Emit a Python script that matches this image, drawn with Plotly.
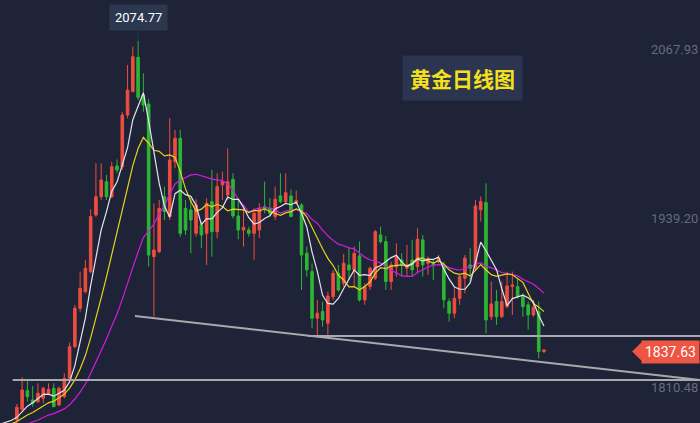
import plotly.graph_objects as go
import pandas as pd

# Earlier closes (before the visible window) used only for moving averages
pre_close = [1772, 1770, 1768, 1771, 1775, 1773, 1770, 1774, 1778, 1776,
             1779, 1782, 1780, 1778, 1781, 1784, 1786, 1783, 1785, 1788]

opens = [1785.4,1793.6,1807.8,1800.7,1799.4,1802.0,1805.8,1809.6,1796.9,1803.2,
         1817.2,1841.4,1870.7,1883.4,1898.7,1941.9,1955.9,1967.4,1955.9,1979.4,
         1978.8,2018.3,2036.1,2062.3,2033.6,2026.7,1910.1,1914.0,1955.9,1940.7,
         1982.7,2000.5,1947.0,1945.8,1927.9,1934.3,1927.9,1952.1,1929.2,1964.9,
         1957.2,1969.2,1941.2,1930.5,1930.5,1927.9,1930.5,1948.3,1947.0,1940.7,
         1956.5,1952.1,1956.5,1950.9,1949.6,1912.7,1898.7,1863.1,1868.2,1859.3,
         1879.6,1897.4,1889.8,1903.8,1900.0,1910.7,1877.1,1887.3,1893.6,1926.7,
         1921.6,1891.1,1902.5,1907.6,1901.3,1907.6,1902.5,1922.9,1905.1,1905.1,
         1906.3,1903.8,1875.8,1866.9,1878.3,1893.6,1903.8,1901.3,1945.8,1951.4,
         1864.3,1875.8,1864.3,1872.0,1887.3,1887.3,1879.6,1873.3,1865.6,1868.2,
         1837.6]
highs = [1797.6,1818.0,1815.5,1811.4,1813.4,1810.9,1813.4,1813.4,1810.9,1821.1,
         1844.5,1873.2,1898.7,1907.6,1946.3,1981.4,1981.4,1972.5,1982.7,1984.4,
         2020.8,2056.5,2070.5,2074.77,2050.1,2030.3,1950.9,1953.4,1963.6,2015.8,
         2006.8,2006.8,1953.4,1954.7,1953.9,1936.9,1954.7,1976.3,1973.8,1975.0,
         1992.8,1973.8,1953.4,1948.3,1933.0,1947.0,1950.9,1967.4,1954.7,1963.6,
         1973.8,1973.8,1961.5,1960.5,1950.9,1917.8,1905.0,1877.1,1875.8,1883.4,
         1900.0,1903.8,1912.2,1916.5,1917.8,1921.6,1889.8,1902.5,1930.5,1933.1,
         1925.9,1906.3,1920.3,1912.7,1919.1,1922.9,1931.8,1926.7,1910.2,1907.6,
         1911.4,1906.3,1878.3,1886.0,1896.2,1911.4,1916.5,1953.4,1956.0,1966.1,
         1891.1,1884.7,1891.1,1898.7,1898.7,1893.6,1882.2,1875.8,1877.1,1875.8,
         1839.4]
lows = [1783.1,1791.8,1799.4,1795.6,1798.2,1798.2,1804.5,1795.1,1796.1,1802.0,
        1816.0,1840.2,1868.1,1882.1,1897.4,1940.7,1953.4,1953.4,1954.7,1973.8,
        1976.3,2015.8,2036.1,2029.7,2020.8,1902.5,1864.3,1912.7,1938.1,1938.1,
        1977.6,1925.4,1926.7,1912.7,1925.4,1916.5,1903.8,1910.1,1924.1,1953.4,
        1953.4,1939.4,1923.4,1917.8,1925.4,1907.6,1924.1,1943.2,1940.7,1938.1,
        1950.9,1950.9,1940.7,1950.3,1884.7,1894.9,1855.4,1850.4,1856.7,1850.4,
        1877.1,1883.4,1887.3,1892.3,1887.3,1875.8,1873.3,1884.7,1892.3,1920.3,
        1884.7,1884.7,1894.9,1894.9,1894.9,1894.9,1897.4,1894.9,1896.2,1892.3,
        1905.1,1870.7,1860.5,1863.1,1873.3,1882.2,1891.1,1900.0,1936.9,1851.6,
        1861.8,1858.0,1863.1,1870.7,1865.6,1878.3,1864.3,1854.2,1864.3,1832.5,
        1836.4]
closes = [1795.1,1808.3,1803.2,1798.2,1805.8,1809.6,1808.8,1795.6,1809.6,1817.2,
          1841.4,1870.7,1886.0,1901.2,1940.7,1955.9,1968.7,1955.9,1978.8,1976.3,
          2018.3,2037.4,2062.8,2031.8,2025.9,1911.4,1915.2,1947.0,1944.5,1983.9,
          2000.5,1927.9,1930.5,1938.1,1949.6,1926.7,1950.9,1929.2,1963.6,1967.4,
          1967.4,1941.2,1930.5,1932.5,1927.9,1943.2,1947.0,1945.8,1943.2,1953.9,
          1952.1,1959.0,1940.7,1952.9,1911.4,1900.0,1863.1,1866.9,1861.8,1880.1,
          1897.4,1884.7,1905.1,1900.0,1912.7,1877.1,1887.3,1901.3,1929.2,1921.6,
          1891.1,1903.8,1910.2,1903.8,1903.8,1900.0,1923.4,1903.8,1908.9,1903.8,
          1908.9,1877.1,1866.9,1878.3,1894.9,1908.9,1901.3,1948.8,1952.2,1861.8,
          1874.0,1864.3,1875.8,1887.8,1888.5,1879.6,1872.0,1865.6,1871.5,1837.6,
          1838.9]

tick_vals = [1810.48, 1939.20, 2067.93]
tick_text = ["1810.48", "1939.20", "2067.93"]
peak_label = "2074.77"
last_price = "1837.63"
title_text = "黄金日线图"

support_level = 1816.0
neck_level = 1849.6
trend_start = (22.4, 1864.8)
trend_end = (129.6, 1816.0)

n = len(closes)
x = list(range(n))
allc = pd.Series(pre_close + closes)
xall = list(range(-len(pre_close), n))
ma5 = allc.rolling(5).mean()
ma10 = allc.rolling(10).mean()
ma20 = allc.rolling(20).mean()

BG = "#1e2337"
fig = go.Figure()
fig.add_trace(go.Candlestick(
    x=x, open=opens, high=highs, low=lows, close=closes,
    increasing=dict(line=dict(color="#ee4d3f", width=1), fillcolor="#ee4d3f"),
    decreasing=dict(line=dict(color="#2db634", width=1), fillcolor="#2db634"),
    whiskerwidth=0, showlegend=False, hoverinfo="skip"))
for s, c in [(ma20, "#d21be0"), (ma10, "#e6d31c"), (ma5, "#e4e4ec")]:
    fig.add_trace(go.Scatter(x=xall, y=s, mode="lines", line=dict(color=c, width=1.2),
                             showlegend=False, hoverinfo="skip"))

lc = "#a9a9ad"
fig.add_shape(type="line", x0=-0.8, x1=140, y0=support_level, y1=support_level,
              line=dict(color=lc, width=2))
fig.add_shape(type="line", x0=55.2, x1=140, y0=neck_level, y1=neck_level,
              line=dict(color=lc, width=2))
fig.add_shape(type="line", x0=trend_start[0], y0=trend_start[1], x1=trend_end[0], y1=trend_end[1],
              line=dict(color=lc, width=2))

for v, t in zip(tick_vals, tick_text):
    fig.add_annotation(xref="paper", x=1.0, y=v, text=t, showarrow=False, xanchor="right",
                       yanchor="middle", yshift=0,
                       font=dict(color="#646b7e", size=13, family="Roboto"))

fig.add_annotation(x=23, y=2074.77, text=peak_label, showarrow=True, arrowhead=0,
                   arrowcolor="#2c3750", arrowwidth=1, ax=0, ay=-24,
                   bgcolor="#2c3750", borderpad=5, font=dict(color="white", size=13, family="Roboto"))
fig.add_annotation(xref="paper", yref="paper", x=0.661, y=0.815, text="<b>" + title_text + "</b>",
                   showarrow=False, xanchor="center", yanchor="middle",
                   bgcolor="#2c3550", borderpad=7,
                   font=dict(color="#f5e11b", size=21, family="Noto Sans CJK SC"))
fig.add_annotation(xref="paper", x=1, y=1837.63, text=last_price, showarrow=False,
                   xanchor="right", bgcolor="#ee5543", borderpad=3,
                   font=dict(color="white", size=14, family="Roboto"))
fig.add_shape(type="path", xref="paper", yref="y",
              path="M 0.903,1837.63 L 0.918,1845.5 L 0.918,1829.8 Z",
              fillcolor="#ee5543", line=dict(width=0))

fig.update_layout(
    width=700, height=423, margin=dict(l=0, r=0, t=0, b=0, autoexpand=False),
    paper_bgcolor=BG, plot_bgcolor=BG,
    xaxis=dict(range=[-3.2, 129.6], visible=False, rangeslider=dict(visible=False)),
    yaxis=dict(range=[1783.1, 2106.1], visible=False),
)
fig.write_html("out.html", config={"displayModeBar": False})
with open("out.html", encoding="utf-8") as f:
    html = f.read()
html = html.replace("<head>", "<head><style>html,body{margin:0;padding:0;overflow:hidden;background:#1e2337}</style>", 1)
with open("out.html", "w", encoding="utf-8") as f:
    f.write(html)
